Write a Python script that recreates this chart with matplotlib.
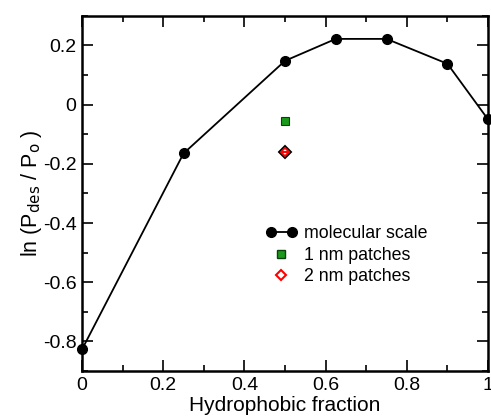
import matplotlib
matplotlib.use("Agg")
import matplotlib.pyplot as plt
from matplotlib.ticker import MultipleLocator
from matplotlib.lines import Line2D
from matplotlib.legend_handler import HandlerLine2D

plt.rcParams['font.family'] = ['Liberation Sans', 'DejaVu Sans']

mol_x = [0.0, 0.25, 0.5, 0.625, 0.75, 0.9, 1.0]
mol_y = [-0.827, -0.165, 0.148, 0.222, 0.222, 0.138, -0.05]
p1_x = [0.5]
p1_y = [-0.054]
p2_x = [0.5]
p2_y = [-0.161]

fig = plt.figure(figsize=(4.91, 4.16), dpi=100)
ax = fig.add_axes([0.167, 0.108, 0.827, 0.854])

ax.plot(mol_x, mol_y, '-', color='black', lw=1.3, marker='o', ms=7,
        mfc='black', mec='black', clip_on=False, zorder=3)
ax.plot(p1_x, p1_y, linestyle='none', marker='s', ms=6, mfc='#1a9a1a',
        mec='#0a400a', mew=0.8, zorder=4)
ax.plot(p2_x, p2_y, linestyle='none', marker='D', ms=6, mfc='white',
        mec='black', mew=1.4, zorder=4)
ax.plot(p2_x, p2_y, linestyle='none', marker='D', ms=4.4, mfc='white',
        mec='red', mew=1.2, zorder=5)
ax.plot(p2_x, p2_y, linestyle='none', marker='_', ms=5, mec='red',
        mew=1.4, zorder=6)

ax.set_xlim(0, 1)
ax.set_ylim(-0.9, 0.3)
ax.xaxis.set_minor_locator(MultipleLocator(0.1))
ax.yaxis.set_minor_locator(MultipleLocator(0.1))
ax.set_xticks([0, 0.2, 0.4, 0.6, 0.8, 1.0])
ax.set_xticklabels(['0', '0.2', '0.4', '0.6', '0.8', '1'])
ax.set_yticks([-0.8, -0.6, -0.4, -0.2, 0, 0.2])
ax.set_yticklabels(['-0.8', '-0.6', '-0.4', '-0.2', '0', '0.2'])
ax.tick_params(which='both', direction='in', top=True, right=True,
               labelsize=14, width=1.2)
ax.tick_params(which='major', length=8, pad=4)
ax.tick_params(which='minor', length=4)
for s in ax.spines.values():
    s.set_linewidth(1.8)

ax.set_xlabel('Hydrophobic fraction', fontsize=15, labelpad=2)
ax.set_ylabel(r'ln (P$_{\mathrm{des}}$ / P$_{\mathrm{o}}$ )', fontsize=15.5, labelpad=-1)

h1 = Line2D([], [], color='black', lw=1.3, marker='o', ms=7)
h2 = Line2D([], [], linestyle='none', marker='s', ms=6, mfc='#1a9a1a', mec='#0a400a')
h3 = Line2D([], [], linestyle='none', marker='D', ms=5, mfc='white', mec='red', mew=1.5)
ax.legend([h1, h2, h3], ['molecular scale', '1 nm patches', '2 nm patches'],
          loc='upper left', bbox_to_anchor=(0.43, 0.435), frameon=False,
          fontsize=12.8, handlelength=1.8, handletextpad=0.35, labelspacing=0.25,
          borderpad=0,
          handler_map={h1: HandlerLine2D(numpoints=2),
                       h2: HandlerLine2D(numpoints=1),
                       h3: HandlerLine2D(numpoints=1)})

fig.savefig('out.png', dpi=100)
